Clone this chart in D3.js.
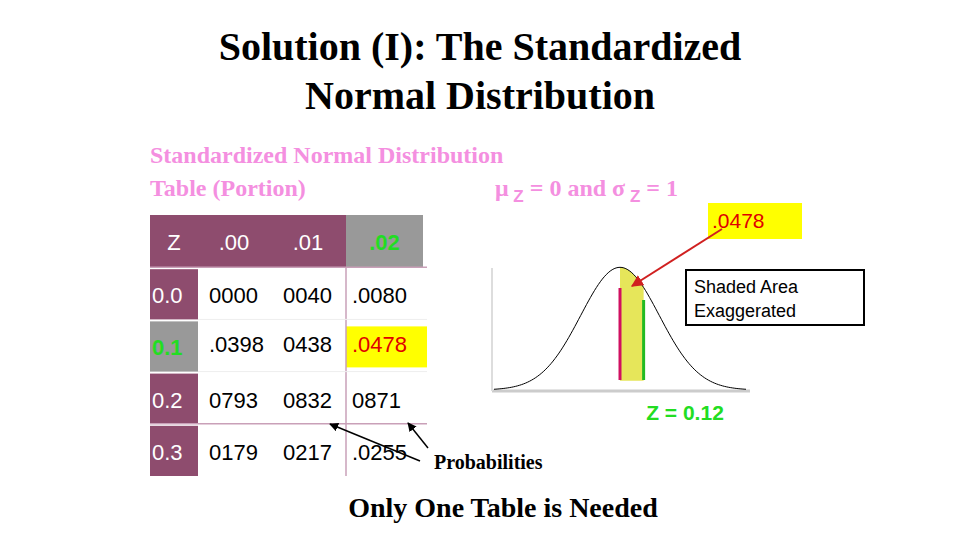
<!DOCTYPE html>
<html><head><meta charset="utf-8">
<script src="https://cdn.jsdelivr.net/npm/d3@7"></script>
<style>body{margin:0;background:#fff}</style></head>
<body><svg id="c" width="960" height="540"></svg>
<script>
const colHeaders = ["Z", ".00", ".01", ".02"];
const rowHeaders = ["0.0", "0.1", "0.2", "0.3"];
const cellValues = [
  ["0000", "0040", ".0080"],
  [".0398", "0438", ".0478"],
  ["0793", "0832", "0871"],
  ["0179", "0217", ".0255"]
];
const zValue = 0.12;
const meanZ = 0;
const shadedArea = ".0478";

const svg = d3.select("#c");
const serif = "'Liberation Serif', 'Times New Roman', serif";
const sans = "'Liberation Sans', Arial, sans-serif";
const purple = "#8e4c6e";

// Title
svg.append("text").attr("x", 480).attr("y", 60).attr("text-anchor", "middle")
  .style("font", `bold 40px ${serif}`).text("Solution (I): The Standardized");
svg.append("text").attr("x", 480).attr("y", 109).attr("text-anchor", "middle")
  .style("font", `bold 40px ${serif}`).text("Normal Distribution");

// subtitle
const pink = "#f48fe0";
svg.append("text").attr("x", 150).attr("y", 163).style("font", `bold 24px ${serif}`).attr("fill", pink)
  .text("Standardized Normal Distribution");
svg.append("text").attr("x", 150).attr("y", 196).style("font", `bold 24px ${serif}`).attr("fill", pink)
  .text("Table (Portion)");
const mu = svg.append("text").attr("x", 495).attr("y", 196).style("font", `bold 24px ${serif}`).attr("fill", pink);
mu.append("tspan").text("μ");
mu.append("tspan").attr("dy", 6).style("font-size", "17px").style("font-family", sans).text(" Z");
mu.append("tspan").attr("dy", -6).text(" = 0   and  σ");
mu.append("tspan").attr("dy", 6).style("font-size", "17px").style("font-family", sans).text(" Z");
mu.append("tspan").attr("dy", -6).text(" = 1");

// Table
const x = d3.scaleOrdinal().domain(d3.range(4)).range([150, 198, 270, 346]);
const w = [48, 72, 76, 77];
const y = d3.scaleBand().domain(d3.range(5)).range([215, 476]);
const g = svg.append("g");

colHeaders.forEach((h, i) => {
  const hl = i === 3;
  g.append("rect").attr("x", x(i)).attr("y", y(0)).attr("width", w[i]).attr("height", y.bandwidth())
    .attr("fill", hl ? "#999" : purple);
  g.append("text").attr("x", x(i) + w[i] / 2).attr("y", y(0) + 35).attr("text-anchor", "middle")
    .style("font", `${hl ? "bold " : ""}22px ${sans}`).attr("fill", hl ? "#22dd22" : "#fff").text(h);
});
rowHeaders.forEach((r, j) => {
  const hl = j === 1;
  const yy = y(j + 1);
  g.append("rect").attr("x", 150).attr("y", yy + 2).attr("width", 48).attr("height", y.bandwidth() - 2)
    .attr("fill", hl ? "#999" : purple);
  g.append("text").attr("x", 152).attr("y", yy + 36)
    .style("font", `${hl ? "bold " : ""}22px ${sans}`).attr("fill", hl ? "#22dd22" : "#fff").text(r);
  cellValues[j].forEach((v, i) => {
    const c = i + 1;
    const hc = hl && i === 2;
    if (hc) g.append("rect").attr("x", 346).attr("y", yy + 7).attr("width", 81).attr("height", 41).attr("fill", "#ffff00");
    g.append("text").attr("x", c === 1 ? 209 : x(c) + (c === 3 ? 6 : 13)).attr("y", yy + (hl ? 33 : 36))
      .style("font", `22px ${sans}`).attr("fill", hc ? "#e00000" : "#000").text(v);
  });
});
// grid lines
[y(1), y(4)].forEach(v => g.append("line").attr("x1", 150).attr("x2", 427).attr("y1", v).attr("y2", v).attr("stroke", "#c9a0b8").attr("stroke-width", 1.5));
g.append("line").attr("x1", 346).attr("x2", 346).attr("y1", y(1)).attr("y2", 476).attr("stroke", "#c9a0b8").attr("stroke-width", 1.5);
[y(2), y(3)].forEach(v => g.append("line").attr("x1", 198).attr("x2", 427).attr("y1", v).attr("y2", v).attr("stroke", "#eee"));

// Normal curve
const zx = d3.scaleLinear().domain([-3.2, 3.2]).range([494, 746]);
const zy = d3.scaleLinear().domain([0, 0.4]).range([390, 267]);
const pdf = z => Math.exp(-z * z / 2) / Math.sqrt(2 * Math.PI);
const zs = d3.range(-3.2, 3.2001, 0.05);
const sh = 0.6; // exaggerated shaded width
svg.append("path").datum(d3.range(meanZ, meanZ + sh + 0.001, 0.02))
  .attr("d", d3.area().x(d => zx(d)).y0(zy(0.03)).y1(d => zy(pdf(d)))).attr("fill", "#e6e65a");
svg.append("line").attr("x1", 492).attr("x2", 750).attr("y1", 391).attr("y2", 391).attr("stroke", "#ccc").attr("stroke-width", 3);
svg.append("line").attr("x1", 492).attr("x2", 492).attr("y1", 268).attr("y2", 391).attr("stroke", "#ddd").attr("stroke-width", 2);
svg.append("path").datum(zs).attr("d", d3.line().x(d => zx(d)).y(d => zy(pdf(d))))
  .attr("fill", "none").attr("stroke", "#000").attr("stroke-width", 1);
svg.append("line").attr("x1", zx(meanZ)).attr("x2", zx(meanZ)).attr("y1", 288).attr("y2", 380).attr("stroke", "#d01060").attr("stroke-width", 3);
svg.append("line").attr("x1", zx(meanZ + sh)).attr("x2", zx(meanZ + sh)).attr("y1", 300).attr("y2", 380).attr("stroke", "#22bb22").attr("stroke-width", 3);

svg.append("text").attr("x", 685).attr("y", 420).attr("text-anchor", "middle")
  .style("font", `bold 21px ${sans}`).attr("fill", "#22dd22").text(`Z = ${zValue}`);

// .0478 label
svg.append("rect").attr("x", 708).attr("y", 203).attr("width", 94).attr("height", 36).attr("fill", "#ffff00");
svg.append("text").attr("x", 712).attr("y", 228).style("font", `21px ${sans}`).attr("fill", "#e00000").text(shadedArea);
svg.append("defs").append("marker").attr("id", "ah").attr("viewBox", "0 0 10 10").attr("refX", 9).attr("refY", 5)
  .attr("markerWidth", 6).attr("markerHeight", 6).attr("orient", "auto")
  .append("path").attr("d", "M0,0L10,5L0,10z").attr("fill", "context-stroke");
svg.append("line").attr("x1", 722).attr("y1", 229).attr("x2", 632).attr("y2", 286)
  .attr("stroke", "#d02020").attr("stroke-width", 2).attr("marker-end", "url(#ah)");

// Shaded box
svg.append("rect").attr("x", 686).attr("y", 270).attr("width", 178).attr("height", 55).attr("fill", "#fff").attr("stroke", "#000").attr("stroke-width", 2);
svg.append("text").attr("x", 694).attr("y", 293).style("font", `18px ${sans}`).text("Shaded Area");
svg.append("text").attr("x", 694).attr("y", 317).style("font", `18px ${sans}`).text("Exaggerated");

// Probabilities
svg.append("text").attr("x", 434).attr("y", 469).style("font", `bold 20px ${serif}`).text("Probabilities");
[[ [420, 461], [330, 424] ], [ [428, 448], [408, 423] ]].forEach(([a, b]) =>
  svg.append("line").attr("x1", a[0]).attr("y1", a[1]).attr("x2", b[0]).attr("y2", b[1])
    .attr("stroke", "#000").attr("stroke-width", 1.5).attr("marker-end", "url(#ah)"));

svg.append("text").attr("x", 503).attr("y", 517).attr("text-anchor", "middle")
  .style("font", `bold 28px ${serif}`).text("Only One Table is Needed");
</script></body></html>
